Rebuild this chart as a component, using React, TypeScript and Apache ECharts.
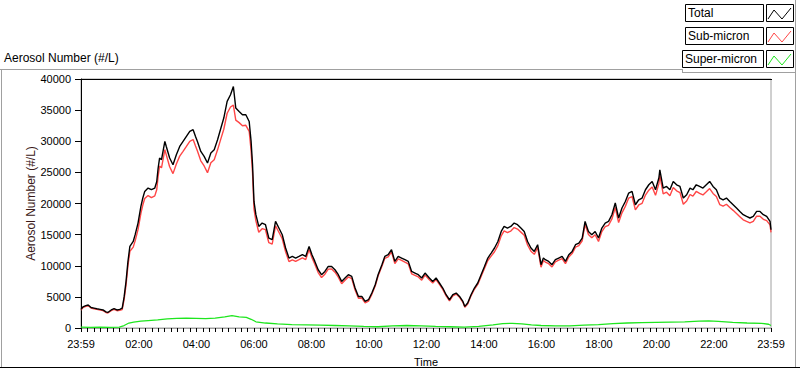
import React, { useEffect, useRef } from "react";
import * as echarts from "echarts";

// minutes elapsed since 23:59 (start of the record)
const totalMinutes = [0,4,10,15,21,27,33,40,46,52,56,63,69,75,81,86,90,94,98,102,109,113,119,125,129,133,140,147,154,158,161,164,168,175,178,185,192,199,206,213,220,227,234,239,243,250,257,264,271,278,285,292,298,305,312,318,323,330,337,344,351,355,358,361,365,371,378,385,392,399,406,413,420,427,434,441,448,455,462,469,476,482,488,495,502,509,516,523,530,537,544,551,558,565,572,579,586,593,600,607,614,620,628,634,641,648,655,662,669,676,683,690,697,704,711,718,727,734,741,748,755,762,769,776,783,790,797,801,807,814,821,828,835,842,849,856,863,870,877,883,890,897,904,911,918,925,932,939,946,953,960,965,969,976,983,990,997,1004,1011,1018,1025,1032,1039,1046,1052,1059,1066,1073,1080,1087,1094,1101,1108,1115,1122,1129,1136,1143,1150,1157,1164,1171,1178,1185,1192,1199,1206,1208,1215,1222,1229,1236,1243,1250,1257,1264,1271,1277,1284,1291,1298,1305,1312,1319,1326,1333,1340,1347,1354,1361,1368,1375,1382,1389,1396,1403,1410,1417,1424,1431,1438,1440];

const totalValues = [3000,3400,3600,3700,3300,3200,3100,3000,2900,2600,2500,2900,3100,2900,3000,3200,5000,7500,10700,13100,13900,15000,16860,19530,20880,21940,22480,22210,22480,23500,25700,27300,27030,29970,29160,27300,26230,27830,29160,29970,30770,31570,31850,30770,29970,28360,27560,26500,28100,28630,30240,32120,33730,36400,37470,38800,35330,34790,34260,34260,33180,29970,26230,20330,18200,16320,16860,16590,14450,14180,17120,16060,14980,12850,11240,11500,11240,11500,11770,11500,13100,11770,10700,9360,8560,9090,9890,9890,9360,8560,7480,8030,8560,8290,6420,5070,5070,4270,4540,5620,6950,8560,10170,11500,11770,12570,10700,11500,11240,10970,10700,9090,8830,8560,8030,8830,8030,7480,8030,7230,6420,5350,4540,5350,5620,5070,4270,3470,4020,5350,6420,7230,8560,9890,11240,12040,12850,13900,15510,16320,16060,16320,16860,16590,16060,15510,13900,12850,12300,13380,10170,11240,10970,10700,10170,10970,11240,11500,10700,11770,12300,13380,13650,14450,17120,15510,14980,15510,14450,16060,16860,17120,18200,20080,17670,19270,20330,21680,21940,19800,20600,20880,22210,23010,23540,22210,24090,25420,22480,22740,22210,23540,23010,22740,20880,21410,22480,22210,23010,22740,22480,23010,23540,22740,22210,20880,20600,20880,20330,19800,19270,18730,18200,17920,17670,17920,18730,18730,18200,17920,17120,15780];

const subMicronValues = [2880,3280,3480,3580,3200,3090,2990,2880,2790,2490,2400,2800,3000,2780,2860,2950,4600,6900,10000,12300,13000,14000,15800,18430,19750,20800,21280,20960,21220,22200,24400,26000,25730,28640,27810,25900,24800,26330,27610,28380,29170,29990,30280,29220,28440,26860,26030,24950,26540,27030,28620,30420,31930,34500,35500,35800,33400,32990,32500,32560,31600,28500,24900,19150,17200,15380,15960,15790,13700,13460,16420,15380,14340,12250,10670,10950,10700,10980,11270,11000,12620,11300,10240,8910,8110,8650,9460,9480,8960,8170,7100,7660,8210,7950,6100,4780,4810,4030,4320,5410,6750,8360,9920,11200,11440,12220,10340,11120,10850,10570,10300,8700,8470,8210,7690,8510,7740,7210,7780,7000,6200,5150,4340,5180,5460,4920,4120,3320,3860,5170,6220,7000,8290,9550,10850,11540,12250,13230,14810,15600,15330,15580,16140,15890,15400,14900,13330,12330,11830,12940,9770,10850,10590,10330,9810,10620,10890,11150,10350,11420,11950,12990,13250,14020,16660,15030,14480,14990,13900,15490,16270,16500,17520,19360,16930,18500,19540,20870,21120,18970,19760,20030,21350,22140,22660,21310,23190,24520,21560,21810,21260,22580,22040,21760,19880,20400,21450,21170,21930,21640,21370,21880,22400,21620,21120,19830,19580,19880,19360,18900,18400,17890,17380,17120,16880,17140,17960,17970,17460,17240,16560,15350];

const superMinutes = [0,20,40,60,80,90,100,110,125,140,160,180,200,220,240,260,280,300,315,330,345,355,365,385,410,440,470,500,530,560,590,620,650,680,710,740,770,800,830,860,880,900,920,940,960,990,1020,1050,1080,1110,1140,1170,1200,1230,1260,1290,1310,1330,1360,1390,1420,1435,1440];
const superMicronValues = [150,100,120,100,150,400,800,950,1100,1200,1300,1450,1550,1600,1550,1500,1600,1800,2000,1800,1700,1400,1000,800,650,550,500,450,400,350,250,200,350,400,350,250,200,150,250,500,700,750,650,500,400,350,350,450,550,700,800,850,900,950,1000,1100,1150,1050,900,800,750,600,400];

const xTickMinutes = [0,121,241,361,481,601,721,841,961,1081,1201,1321,1440];
const xTickLabels = ["23:59","02:00","04:00","06:00","08:00","10:00","12:00","14:00","16:00","18:00","20:00","22:00","23:59"];
const seriesNames = ["Total","Sub-micron","Super-micron"];
const seriesColors = ["#000000","#ff4646","#1ee61e"];

const FONT = "'Liberation Sans', Arial, sans-serif";

export default function App() {
  const ref = useRef<HTMLDivElement>(null);
  useEffect(() => {
    if (!ref.current) return;
    const chart = echarts.init(ref.current, null, { renderer: "svg" });
    const pairs = (xs: number[], ys: number[]) => xs.map((x, i) => [x, ys[i]]);
    // minor tick positions: 9 divisions per labelled interval
    const ticks: number[] = [];
    for (let i = 0; i < xTickMinutes.length - 1; i++) {
      const a = xTickMinutes[i], b = xTickMinutes[i + 1];
      for (let k = 0; k < 9; k++) ticks.push(a + ((b - a) * k) / 9);
    }
    ticks.push(xTickMinutes[xTickMinutes.length - 1]);

    const legendRows = seriesNames.map((name, i) => {
      const y = 4 + i * 23;
      const boxX = i === 2 ? 682 : 685;
      return [
        { type: "rect", shape: { x: boxX + 0.5, y: y + 0.5, width: 763 - boxX, height: 17 }, style: { fill: "#fff", stroke: "#000", lineWidth: 1 } },
        { type: "text", x: boxX + 3, y: y + 9, style: { text: name, font: `12px ${FONT}`, fill: "#000", verticalAlign: "middle" } },
        { type: "rect", shape: { x: 766.5, y: y + 0.5, width: 27, height: 17 }, style: { fill: "#fff", stroke: "#000", lineWidth: 1 } },
        { type: "polyline", shape: { points: [[768, y + 15], [774, y + 6], [782, y + 15], [791, y + 4]] }, style: { stroke: seriesColors[i], lineWidth: 1, fill: "none" } },
      ];
    }).flat();

    chart.setOption({
      animation: false,
      backgroundColor: "#fff",
      grid: { left: 81, top: 79, right: 29, bottom: 41, outerBoundsMode: "none", containLabel: false, show: true, borderColor: "#a0a0a0", borderWidth: 1, backgroundColor: "#fff" },
      xAxis: {
        type: "value", min: 0, max: 1440,
        name: "Time", nameLocation: "middle", nameGap: 28, nameMoveOverlap: false,
        nameTextStyle: { fontFamily: FONT, fontSize: 11, color: "#000" },
        axisLine: { show: true, lineStyle: { color: "#a0a0a0", width: 1 } },
        axisTick: { show: true, customValues: ticks, length: 4, lineStyle: { color: "#000" } },
        axisLabel: {
          customValues: xTickMinutes, fontFamily: FONT, fontSize: 11, color: "#000", margin: 10,
          formatter: (v: number) => { const i = xTickMinutes.indexOf(Math.round(v)); return i >= 0 ? xTickLabels[i] : ""; },
        },
        splitLine: { show: false },
      },
      yAxis: {
        type: "value", min: 0, max: 40000, interval: 5000,
        name: "Aerosol Number (#/L)", nameLocation: "middle", nameGap: 44, nameMoveOverlap: false,
        nameTextStyle: { fontFamily: FONT, fontSize: 12, color: "#3a1818" },
        axisLine: { show: true, lineStyle: { color: "#000", width: 1 } },
        axisTick: { show: true, length: 6, lineStyle: { color: "#000" } },
        axisLabel: { fontFamily: FONT, fontSize: 11, color: "#000", margin: 10, formatter: (v: number) => String(v) },
        splitLine: { show: false },
      },
      series: [
        { name: seriesNames[1], type: "line", data: pairs(totalMinutes, subMicronValues), showSymbol: false, lineStyle: { color: seriesColors[1], width: 1.4 }, z: 2 },
        { name: seriesNames[0], type: "line", data: pairs(totalMinutes, totalValues), showSymbol: false, lineStyle: { color: seriesColors[0], width: 1.4 }, z: 3 },
        { name: seriesNames[2], type: "line", data: pairs(superMinutes, superMicronValues), showSymbol: false, lineStyle: { color: seriesColors[2], width: 1.3 }, z: 4 },
      ],
      graphic: [
        { type: "line", shape: { x1: 0, y1: 69.5, x2: 682, y2: 69.5 }, style: { stroke: "#a0a0a0", lineWidth: 1 } },
        { type: "line", shape: { x1: 682.5, y1: 69, x2: 682.5, y2: 72 }, style: { stroke: "#a0a0a0", lineWidth: 1 } },
        { type: "line", shape: { x1: 682, y1: 72.5, x2: 796, y2: 72.5 }, style: { stroke: "#a0a0a0", lineWidth: 1 } },
        { type: "line", shape: { x1: 795.5, y1: 0, x2: 795.5, y2: 368 }, style: { stroke: "#a0a0a0", lineWidth: 1 } },
        { type: "line", shape: { x1: 1.5, y1: 69, x2: 1.5, y2: 368 }, style: { stroke: "#a0a0a0", lineWidth: 1 } },
        { type: "line", shape: { x1: 0, y1: 367.5, x2: 800, y2: 367.5 }, style: { stroke: "#000", lineWidth: 1 } },
        { type: "line", shape: { x1: 81, y1: 79.5, x2: 772, y2: 79.5 }, style: { stroke: "#000", lineWidth: 1 } },
        { type: "text", x: 4, y: 58, style: { text: "Aerosol Number (#/L)", font: `12px ${FONT}`, fill: "#000", verticalAlign: "middle" } },
        ...legendRows,
      ],
    });
    return () => chart.dispose();
  }, []);
  return <div ref={ref} style={{ position: "fixed", left: 0, top: 0, width: 800, height: 369 }} />;
}
